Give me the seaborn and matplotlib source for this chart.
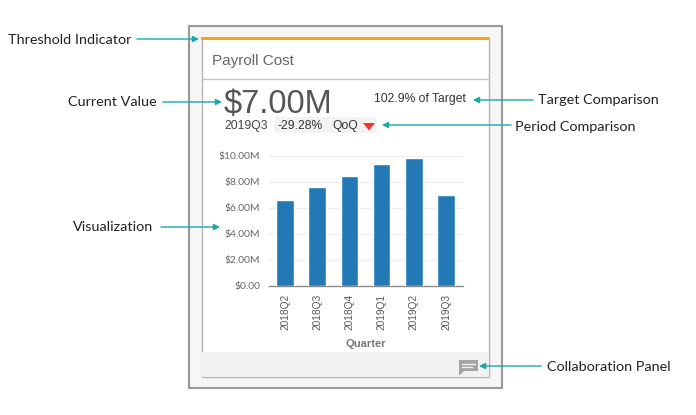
import pandas as pd
import matplotlib.pyplot as plt
import seaborn as sns
from matplotlib.patches import Rectangle, FancyBboxPatch, Polygon
from matplotlib.ticker import FuncFormatter

W, H = 696, 415

## chart values
quarters = ['2018Q2', '2018Q3', '2018Q4', '2019Q1', '2019Q2', '2019Q3']
payroll_cost = [6.65, 7.6, 8.45, 9.4, 9.85, 7.0]
y_ticks = [0, 2, 4, 6, 8, 10]

## callouts: label, text x, text y, arrow start x, arrow end x, arrow y
callout_labels = ['Threshold Indicator', 'Current Value', 'Visualization',
                  'Target Comparison', 'Period Comparison', 'Collaboration Panel']
callout_text_x = [8, 68, 73, 538, 515, 547]
callout_text_y = [39.5, 101.5, 226.5, 99.5, 126.5, 366.5]
callout_from_x = [137, 163, 161, 533, 511, 541]
callout_to_x = [199, 222, 220, 473, 382, 479]
callout_arrow_y = [39, 102, 227, 100, 125, 366]

TEAL = '#17a9a9'
BAR = '#2379b5'
CARD_FONT = 'Liberation Sans'

sns.set_theme(style='white')
fig = plt.figure(figsize=(W / 100, H / 100), dpi=100, facecolor='white')

## overlay in pixel coords for the card and the callouts
bg = fig.add_axes([0, 0, 1, 1], zorder=0)
bg.set_xlim(0, W)
bg.set_ylim(H, 0)
bg.axis('off')

bg.add_patch(Rectangle((189, 26), 313, 362, fc='#f6f6f6', ec='#98999b', lw=1.5))
bg.add_patch(Rectangle((201.5, 38), 287.5, 339, fc='white', ec='#b5b5b5', lw=1))
bg.add_patch(Rectangle((202.3, 352), 286.2, 24.5, fc='#f2f2f2', ec='none'))
bg.plot([201.5, 489], [79, 79], color='#c4c4c4', lw=1)
bg.add_patch(Rectangle((201, 37), 289, 3, fc='#fca311', ec='none'))

bg.text(212, 60.5, 'Payroll Cost', family=CARD_FONT, fontsize=11, color='#666666', va='center')
bg.text(224, 104.5, '$7.00M', family=CARD_FONT, fontsize=23.5, color='#555555', va='center')
bg.text(374, 98.5, '102.9% of Target', family=CARD_FONT, fontsize=8.7, color='#333333', va='center')
bg.add_patch(FancyBboxPatch((276, 119), 99, 12, boxstyle='round,pad=2,rounding_size=3',
                            fc='#f3f3f3', ec='none'))
bg.text(224, 126, '2019Q3', family=CARD_FONT, fontsize=8.7, color='#444444', va='center')
bg.text(278, 126, '-29.28%', family=CARD_FONT, fontsize=8.7, color='#333333', va='center')
bg.text(332, 126, 'QoQ', family=CARD_FONT, fontsize=8.7, color='#333333', va='center')
bg.add_patch(Polygon([(363, 123), (375, 123), (369, 130.5)], fc='#f0352b', ec='none'))

## chat icon in the footer
bg.add_patch(Polygon([(459, 360), (478, 360), (478, 371), (464, 371), (460, 375), (459, 375)],
                     fc='#a3a3a3', ec='none'))
bg.plot([462, 475], [363.5, 363.5], color='#f2f2f2', lw=1)
bg.plot([462, 472], [367, 367], color='#f2f2f2', lw=1)

for i, label in enumerate(callout_labels):
    bg.text(callout_text_x[i], callout_text_y[i], label, family='Lato', fontsize=10.4,
            color='#222222', va='center')
    bg.annotate('', xy=(callout_to_x[i], callout_arrow_y[i]),
                xytext=(callout_from_x[i], callout_arrow_y[i]),
                arrowprops=dict(arrowstyle='-|>', color=TEAL, lw=1, mutation_scale=9,
                                shrinkA=0, shrinkB=0))

## bar chart, placed over the card
ax = fig.add_axes([269 / W, 1 - 286 / H, 194 / W, 130 / H], zorder=1)
ax.patch.set_alpha(0)
df = pd.DataFrame({'quarter': quarters, 'cost': payroll_cost})
sns.barplot(data=df, x='quarter', y='cost', color=BAR, saturation=1, width=0.55, ax=ax, zorder=3)
ax.set_xlim(-0.5, 5.53)
ax.set_ylim(0, 10)
ax.set_yticks(y_ticks)
ax.yaxis.set_major_formatter(FuncFormatter(lambda v, _: '$0.00' if v == 0 else f'${v:.2f}M'))
ax.grid(axis='y', color='#eeeeee', lw=1, zorder=0)
ax.set_axisbelow(True)
sns.despine(ax=ax, left=True)
ax.spines['bottom'].set_color('#8a8a8a')
ax.spines['bottom'].set_linewidth(1)
ax.tick_params(axis='y', length=0, pad=6.4, labelsize=7.4, labelcolor='#666666')
ax.tick_params(axis='x', length=0, pad=5.4, labelsize=7.3, labelcolor='#555555', labelrotation=90)
for t in ax.get_yticklabels():
    t.set_family('Lato')
for t in ax.get_xticklabels():
    t.set_family(CARD_FONT)
ax.set_ylabel('')
ax.set_xlabel('Quarter', family=CARD_FONT, fontsize=8, fontweight='bold', color='#777777', labelpad=6.4)

fig.savefig('out.png', dpi=100)
